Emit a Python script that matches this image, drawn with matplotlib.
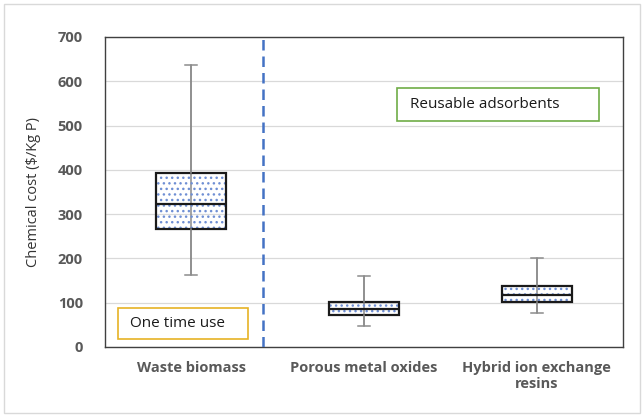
import matplotlib
matplotlib.use("Agg")
import matplotlib.pyplot as plt
from matplotlib.patches import Rectangle

categories = ["Waste biomass", "Porous metal oxides", "Hybrid ion exchange\nresins"]
whisker_low = [163, 48, 76]
q1 = [266, 73, 102]
median = [322, 85, 118]
q3 = [394, 101, 138]
whisker_high = [636, 161, 201]

plt.rcParams["font.family"] = ["Open Sans", "DejaVu Sans"]

fig = plt.figure(figsize=(6.44, 4.17), dpi=100)
ax = fig.add_axes([105 / 644, 1 - 347 / 417, 518 / 644, 310 / 417])

pos = list(range(len(categories)))
width = 0.405

# whisker line shows through the box in the original
ax.vlines(pos, whisker_low, whisker_high, color="#8c8c8c", linewidth=1.1, zorder=1.5)

# hatched fill under the box outlines
ax.bar(pos, [b - a for a, b in zip(q1, q3)], bottom=q1, width=width,
       color="none", edgecolor="#6f8fd4", hatch="...", linewidth=0, zorder=2)

stats = [
    {"whislo": lo, "q1": a, "med": m, "q3": b, "whishi": hi, "label": c}
    for lo, a, m, b, hi, c in zip(whisker_low, q1, median, q3, whisker_high, categories)
]
ax.bxp(stats, positions=pos, widths=width, showfliers=False, patch_artist=True,
       boxprops=dict(facecolor="none", edgecolor="#1a1a1a", linewidth=1.6),
       medianprops=dict(color="#1a1a1a", linewidth=1.6),
       whiskerprops=dict(color="#8c8c8c", linewidth=1.1),
       capprops=dict(color="#8c8c8c", linewidth=1.1),
       capwidths=0.07, zorder=3)

ax.set_xlim(-0.5, 2.5)
ax.set_ylim(0, 700)
ax.set_yticks(range(0, 701, 100))
ax.yaxis.grid(True, color="#d9d9d9", linewidth=0.9)
ax.set_axisbelow(True)
ax.tick_params(length=0)
ax.tick_params(axis="y", pad=16)
ax.tick_params(axis="x", pad=10)
for lab in ax.get_yticklabels() + ax.get_xticklabels():
    lab.set_fontweight("bold")
    lab.set_color("#595959")
    lab.set_fontsize(10.5)
for sp in ax.spines.values():
    sp.set_color("#404040")
    sp.set_linewidth(1.0)

ax.set_ylabel("Chemical cost ($/Kg P)", fontsize=10.5, color="#333333", labelpad=12)

# separator between single-use and reusable groups
ax.axvline(0.415, color="#4472C4", linestyle=(0, (4.2, 2.4)), linewidth=1.8, zorder=4)

# annotation boxes (axes fractions)
ax.add_patch(Rectangle((0.025, 0.026), 0.251, 0.1, transform=ax.transAxes,
                       facecolor="white", edgecolor="#E6B325", linewidth=1.2, zorder=5))
ax.text(0.048, 0.076, "One time use", transform=ax.transAxes, fontsize=11,
        color="#1a1a1a", va="center", ha="left", zorder=6)
ax.add_patch(Rectangle((0.564, 0.729), 0.39, 0.106, transform=ax.transAxes,
                       facecolor="white", edgecolor="#70AD47", linewidth=1.2, zorder=5))
ax.text(0.589, 0.782, "Reusable adsorbents", transform=ax.transAxes, fontsize=11,
        color="#1a1a1a", va="center", ha="left", zorder=6)

# light outer frame of the picture
fig.patches.append(Rectangle((4 / 644, 4 / 417), 1 - 8 / 644, 1 - 8 / 417, transform=fig.transFigure,
                             fill=False, edgecolor="#d9d9d9", linewidth=1))

fig.savefig("out.png", dpi=100)
